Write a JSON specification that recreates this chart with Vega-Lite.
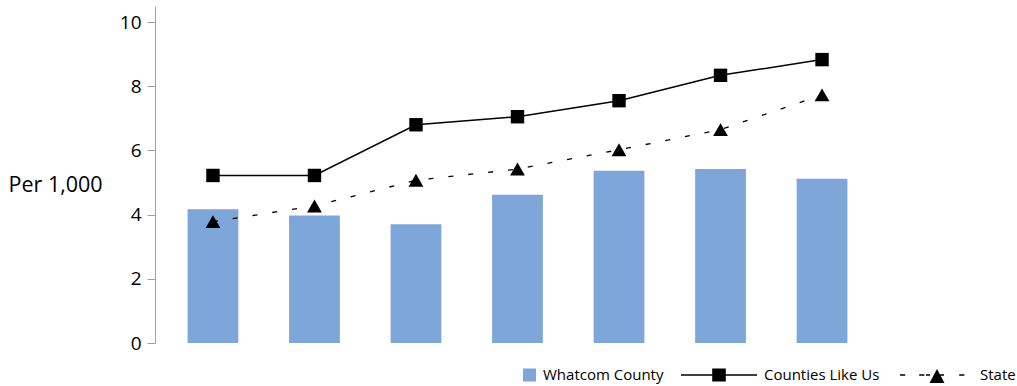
{
  "$schema": "https://vega.github.io/schema/vega-lite/v6.json",
  "autosize": {"type": "none"},
  "padding": {"left": 155, "top": 6, "right": 137, "bottom": 43},
  "width": 725,
  "height": 337,
  "background": "white",
  "config": {"view": {"stroke": null}, "font": "Open Sans"},
  "data": {
    "values": [
      {"cat": "1", "series": "Whatcom County", "value": 4.17},
      {"cat": "2", "series": "Whatcom County", "value": 3.97},
      {"cat": "3", "series": "Whatcom County", "value": 3.70},
      {"cat": "4", "series": "Whatcom County", "value": 4.62},
      {"cat": "5", "series": "Whatcom County", "value": 5.37},
      {"cat": "6", "series": "Whatcom County", "value": 5.42},
      {"cat": "7", "series": "Whatcom County", "value": 5.12},
      {"cat": "1", "series": "Counties Like Us", "value": 5.22},
      {"cat": "2", "series": "Counties Like Us", "value": 5.22},
      {"cat": "3", "series": "Counties Like Us", "value": 6.80},
      {"cat": "4", "series": "Counties Like Us", "value": 7.05},
      {"cat": "5", "series": "Counties Like Us", "value": 7.55},
      {"cat": "6", "series": "Counties Like Us", "value": 8.34},
      {"cat": "7", "series": "Counties Like Us", "value": 8.83},
      {"cat": "1", "series": "State", "value": 3.78},
      {"cat": "2", "series": "State", "value": 4.27},
      {"cat": "3", "series": "State", "value": 5.07},
      {"cat": "4", "series": "State", "value": 5.42},
      {"cat": "5", "series": "State", "value": 6.02},
      {"cat": "6", "series": "State", "value": 6.65},
      {"cat": "7", "series": "State", "value": 7.73}
    ]
  },
  "encoding": {
    "x": {
      "field": "cat", "type": "nominal", "axis": null,
      "scale": {"paddingInner": 0.5, "paddingOuter": 0.321}
    },
    "y": {
      "field": "value", "type": "quantitative",
      "scale": {"domain": [0, 10.5], "nice": false, "zero": true},
      "axis": {
        "values": [0, 2, 4, 6, 8, 10],
        "grid": false,
        "domainColor": "#a0a0a0",
        "tickColor": "#a0a0a0",
        "tickSize": 8,
        "labelPadding": 6,
        "labelFont": "Open Sans",
        "labelFontSize": 19,
        "labelColor": "black",
        "title": "Per 1,000",
        "titleAngle": 0,
        "titleAlign": "left",
        "titleBaseline": "middle",
        "titleX": -147,
        "titleY": 179,
        "titleFont": "Open Sans",
        "titleFontSize": 21.5,
        "titleFontWeight": "normal",
        "titleColor": "black"
      }
    }
  },
  "layer": [
    {
      "transform": [{"filter": "datum.series === 'Whatcom County'"}],
      "mark": {"type": "bar"},
      "encoding": {
        "fill": {
          "field": "series", "type": "nominal",
          "scale": {"domain": ["Whatcom County", "Counties Like Us", "State"], "range": ["#7ea6d8", "black", "black"]},
          "legend": {
            "title": null,
            "orient": "none",
            "legendX": 302,
            "legendY": 361,
            "direction": "horizontal",
            "symbolSize": 6400,
            "clipHeight": 16,
            "labelOffset": 6,
            "columnPadding": 14,
            "padding": 0,
            "labelFont": "Open Sans",
            "labelFontSize": 15,
            "labelColor": "black",
            "symbolStrokeWidth": 0,
            "encode": {
              "symbols": {
                "update": {
                  "shape": {"signal": "datum.value === 'Whatcom County' ? 'M0.65,-0.1625H0.975V0.1625H0.65Z' : datum.value === 'Counties Like Us' ? 'M-0.925,-0.0175H0.975V0.0175H-0.925Z M-0.145,-0.16H0.195V0.16H-0.145Z' : 'M-0.85,-0.0175H-0.72V0.0175H-0.85Z M-0.37,-0.0175H-0.24V0.0175H-0.37Z M-0.2,-0.0175H-0.1V0.0175H-0.2Z M0.15,-0.0175H0.25V0.0175H0.15Z M0.63,-0.0175H0.76V0.0175H0.63Z M0.075,-0.15L0.2625,0.2H-0.1125Z'"}
                }
              }
            }
          }
        }
      }
    },
    {
      "transform": [{"filter": "datum.series === 'Counties Like Us'"}],
      "mark": {"type": "line", "color": "black", "strokeWidth": 1.5},
      "encoding": {}
    },
    {
      "transform": [{"filter": "datum.series === 'Counties Like Us'"}],
      "mark": {"type": "point", "shape": "square", "filled": true, "color": "black", "size": 180, "opacity": 1},
      "encoding": {}
    },
    {
      "transform": [{"filter": "datum.series === 'State'"}],
      "mark": {"type": "line", "color": "black", "strokeWidth": 1.3, "strokeDash": [5, 15]},
      "encoding": {}
    },
    {
      "transform": [{"filter": "datum.series === 'State'"}],
      "mark": {"type": "point", "shape": "triangle-up", "filled": true, "color": "black", "size": 220, "opacity": 1},
      "encoding": {}
    }
  ]
}
